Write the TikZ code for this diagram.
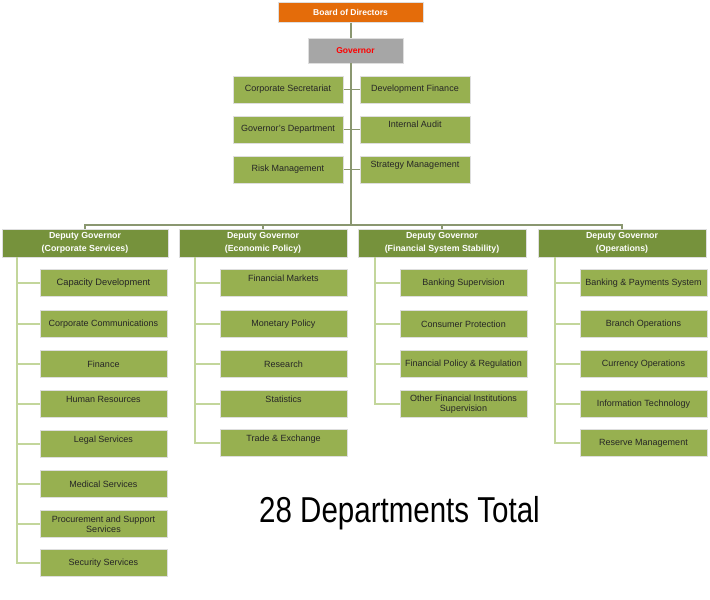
\documentclass[tikz,border=0pt]{standalone}
\usepackage{fontspec}
\setmainfont{Liberation Sans}
\usepackage{tikz}

\definecolor{boardorange}{HTML}{E46C0A}
\definecolor{govgray}{HTML}{A6A6A6}
\definecolor{deputygreen}{HTML}{76923C}
\definecolor{deptgreen}{HTML}{97B050}
\definecolor{trunkline}{HTML}{8A9770}
\definecolor{branchline}{HTML}{C3D69B}

\tikzset{
  box/.style={draw=black!13, line width=1pt, inner sep=0pt, align=center,
    font=\fontsize{9}{10}\selectfont},
  deptbox/.style={box, fill=deptgreen, text=black!85,
    minimum width=127pt, minimum height=27pt},
  sidebox/.style={box, fill=deptgreen, text=black!85,
    minimum width=110pt, minimum height=27pt},
  uptext/.style={text depth=10pt},
  deputybox/.style={box, fill=deputygreen, text=white,
    minimum height=28pt, font=\fontsize{8.8}{13}\selectfont\bfseries},
  trunk/.style={draw=trunkline, line width=1.6pt},
  branch/.style={draw=branchline, line width=1.6pt}
}

\begin{document}
\begin{tikzpicture}[x=1pt,y=-1pt]
            \useasboundingbox (0,0) rectangle (710,600);

            % top of the chart
            \node[box, fill=boardorange, text=white, minimum width=145pt, minimum height=20pt,
                  font=\fontsize{8.5}{10}\selectfont\bfseries] (board) at (350.5,12) {Board of Directors};
            \node[box, fill=govgray, text=red, minimum width=95pt, minimum height=25pt,
                  font=\fontsize{8.5}{10}\selectfont\bfseries] (gov) at (355.5,50.5) {Governor};

            \node[sidebox] (corpsec) at (288,89.5) {Corporate Secretariat};
            \node[sidebox] (govdept) at (288,129.5) {Governor's Department};
            \node[sidebox] (risk) at (288,169.5) {Risk Management};
            \node[sidebox] (devfin) at (415,89.5) {Development Finance};
            \node[sidebox, uptext] (audit) at (415,129.5) {Internal Audit};
            \node[sidebox, uptext] (strategy) at (415,169.5) {Strategy Management};

            \coordinate (top) at (351,63);
            \coordinate (bar) at (351,225);

            % deputy governors
            \node[deputybox, minimum width=166pt] (dgcorp) at (85,243) {Deputy Governor\\(Corporate Services)};
            \node[deputybox, minimum width=168pt] (dgecon) at (263,243) {Deputy Governor\\(Economic Policy)};
            \node[deputybox, minimum width=168pt] (dgfin) at (442,243) {Deputy Governor\\(Financial System Stability)};
            \node[deputybox, minimum width=168pt] (dgops) at (622,243) {Deputy Governor\\(Operations)};

            % corporate services
            \node[deptbox] (capdev) at (103.5,283) {\fontsize{9.3}{10}\selectfont Capacity Development};
            \node[deptbox] (comms) at (103.5,324) {Corporate Communications};
            \node[deptbox] (finance) at (103.5,364) {Finance};
            \node[deptbox, uptext] (hr) at (103.5,404) {Human Resources};
            \node[deptbox, uptext] (legal) at (103.5,444) {Legal Services};
            \node[deptbox] (medical) at (103.5,484) {Medical Services};
            \node[deptbox] (procure) at (103.5,524) {Procurement and Support\\Services};
            \node[deptbox] (security) at (103.5,563) {Security Services};

            % economic policy
            \node[deptbox, uptext] (markets) at (283.5,283) {Financial Markets};
            \node[deptbox] (monetary) at (283.5,324) {Monetary Policy};
            \node[deptbox] (research) at (283.5,364) {Research};
            \node[deptbox, uptext] (stats) at (283.5,404) {Statistics};
            \node[deptbox, uptext] (trade) at (283.5,443) {Trade \& Exchange};

            % financial system stability
            \node[deptbox] (banksup) at (463.5,283) {Banking Supervision};
            \node[deptbox] (consumer) at (463.5,324) {Consumer Protection};
            \node[deptbox] (policy) at (463.5,364) {Financial Policy \& Regulation};
            \node[deptbox] (otherfi) at (463.5,404) {Other Financial Institutions\\Supervision};

            % operations
            \node[deptbox] (payments) at (643.5,283) {Banking \& Payments System};
            \node[deptbox] (branch) at (643.5,324) {Branch Operations};
            \node[deptbox] (currency) at (643.5,364) {Currency Operations};
            \node[deptbox] (it) at (643.5,404) {Information Technology};
            \node[deptbox] (reserve) at (643.5,443) {Reserve Management};

            % trunk lines
            \draw[trunk] (board.south -| top) -- (gov.north -| top);
            \draw[trunk] (top) -- (bar);
            \draw[trunk] (corpsec.east) -- (corpsec.east -| top);
            \draw[trunk] (govdept.east) -- (govdept.east -| top);
            \draw[trunk] (risk.east) -- (risk.east -| top);
            \draw[trunk] (devfin.west) -- (devfin.west -| top);
            \draw[trunk] (audit.west) -- (audit.west -| top);
            \draw[trunk] (strategy.west) -- (strategy.west -| top);
            \draw[trunk] (dgcorp.north) |- (bar) -| (dgops.north);
            \draw[trunk] (dgecon.north) -- (dgecon.north |- bar);
            \draw[trunk] (dgfin.north) -- (dgfin.north |- bar);

            % branch lines
            \coordinate (corpspine) at (17,257);
            \coordinate (econspine) at (195,257);
            \coordinate (finspine) at (375,257);
            \coordinate (opsspine) at (555,257);

            \draw[branch] (corpspine) |- (capdev.west);
            \draw[branch] (corpspine) |- (comms.west);
            \draw[branch] (corpspine) |- (finance.west);
            \draw[branch] (corpspine) |- (hr.west);
            \draw[branch] (corpspine) |- (legal.west);
            \draw[branch] (corpspine) |- (medical.west);
            \draw[branch] (corpspine) |- (procure.west);
            \draw[branch] (corpspine) |- (security.west);

            \draw[branch] (econspine) |- (markets.west);
            \draw[branch] (econspine) |- (monetary.west);
            \draw[branch] (econspine) |- (research.west);
            \draw[branch] (econspine) |- (stats.west);
            \draw[branch] (econspine) |- (trade.west);

            \draw[branch] (finspine) |- (banksup.west);
            \draw[branch] (finspine) |- (consumer.west);
            \draw[branch] (finspine) |- (policy.west);
            \draw[branch] (finspine) |- (otherfi.west);

            \draw[branch] (opsspine) |- (payments.west);
            \draw[branch] (opsspine) |- (branch.west);
            \draw[branch] (opsspine) |- (currency.west);
            \draw[branch] (opsspine) |- (it.west);
            \draw[branch] (opsspine) |- (reserve.west);

            \node[xscale=0.82, font=\fontsize{36}{40}\selectfont] (total) at (399.5,513) {28 Departments Total};
        \end{tikzpicture}
\end{document}
